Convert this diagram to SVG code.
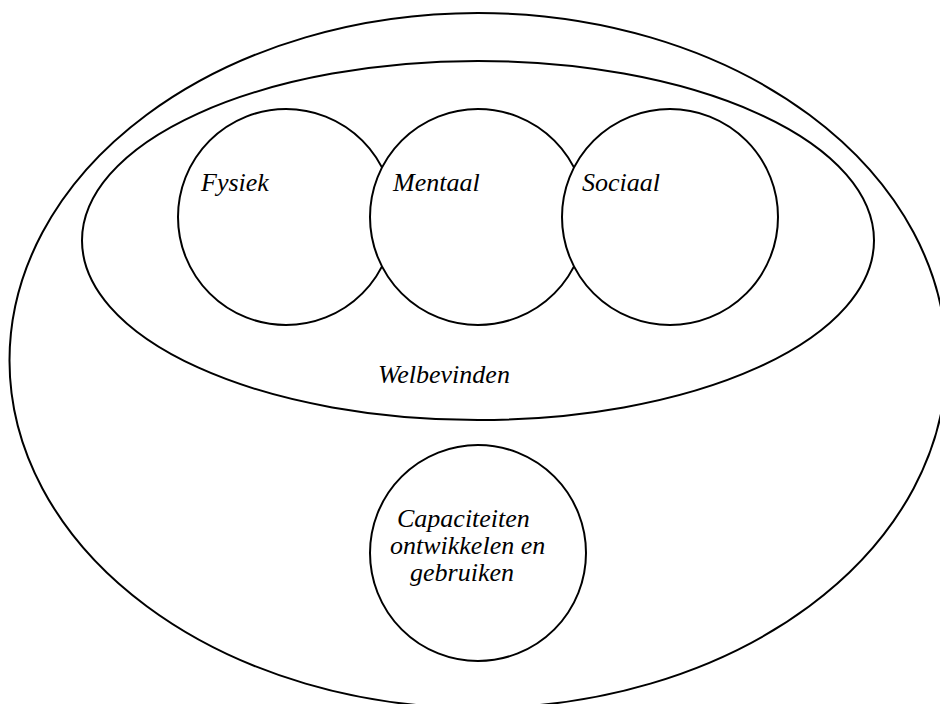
<svg xmlns="http://www.w3.org/2000/svg" width="940" height="704" viewBox="0 0 940 704">
  <style>
    .shape { fill: #fff; stroke: #000; stroke-width: 2; }
    .label { font-family: "Liberation Serif", "Times New Roman", serif; font-style: italic; font-size: 26px; fill: #000; }
  </style>
  <rect width="940" height="704" fill="#fff"/>
  <g id="outer">
    <ellipse class="shape" cx="478" cy="360.5" rx="468.5" ry="347.5"/>
  </g>
  <g id="welbevinden">
    <ellipse class="shape" cx="478" cy="240.5" rx="396" ry="179.5"/>
    <text class="label" x="378" y="383">Welbevinden</text>
  </g>
  <!-- later circles are painted over earlier ones, hiding the overlapped arcs -->
  <g id="fysiek">
    <circle class="shape" cx="286" cy="217" r="108"/>
    <text class="label" x="201" y="191">Fysiek</text>
  </g>
  <g id="mentaal">
    <circle class="shape" cx="478" cy="217" r="108"/>
    <text class="label" x="393" y="191">Mentaal</text>
  </g>
  <g id="sociaal">
    <circle class="shape" cx="670" cy="217" r="108"/>
    <text class="label" x="582" y="191">Sociaal</text>
  </g>
  <g id="capaciteiten">
    <circle class="shape" cx="478" cy="553" r="108"/>
    <text class="label">
      <tspan x="397" y="527">Capaciteiten</tspan>
      <tspan x="390" y="554">ontwikkelen en</tspan>
      <tspan x="410" y="581">gebruiken</tspan>
    </text>
  </g>
  <g id="connectors"/>
</svg>
